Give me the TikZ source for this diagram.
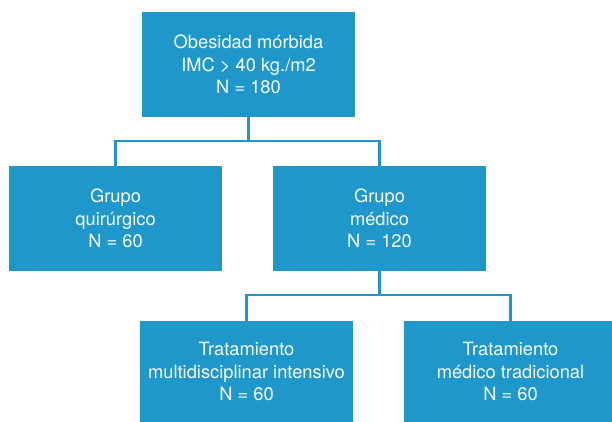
\documentclass[tikz,border=0pt]{standalone}
\usepackage{fontspec}
\setmainfont{TeX Gyre Heros}
\definecolor{boxblue}{RGB}{32,151,202}
\definecolor{boxtext}{RGB}{245,250,253}
\begin{document}
\begin{tikzpicture}[x=1pt,y=-1pt,
  flowbox/.style={rectangle, fill=boxblue, draw=none, inner sep=0pt,
    minimum width=213pt, minimum height=105pt, align=center,
    text=boxtext, font=\fontsize{18.3}{22.5}\selectfont},
  lowbox/.style={flowbox, minimum height=101pt},
  link/.style={draw=boxblue, line width=2.5pt}]
\useasboundingbox (0,0) rectangle (612,422);
\node[flowbox] (top) at (248.5,64.5) {Obesidad mórbida\\IMC > 40 kg./m2\\N = 180};
\node[flowbox] (gq) at (115.5,218.5) {Grupo\\quirúrgico\\N = 60};
\node[flowbox] (gm) at (379.5,218.5) {Grupo\\médico\\N = 120};
\node[lowbox] (tmi) at (246.5,371.5) {Tratamiento\\multidisciplinar intensivo\\N = 60};
\node[lowbox] (tmt) at (510.5,371.5) {Tratamiento\\médico tradicional\\N = 60};
\draw[link] (top.south) -- ++(0,24) coordinate (j1);
\draw[link] (gq.north) |- (j1) -| (gm.north);
\draw[link] (gm.south) -- ++(0,24) coordinate (j2);
\draw[link] (tmi.north) |- (j2) -| (tmt.north);
\end{tikzpicture}
\end{document}
